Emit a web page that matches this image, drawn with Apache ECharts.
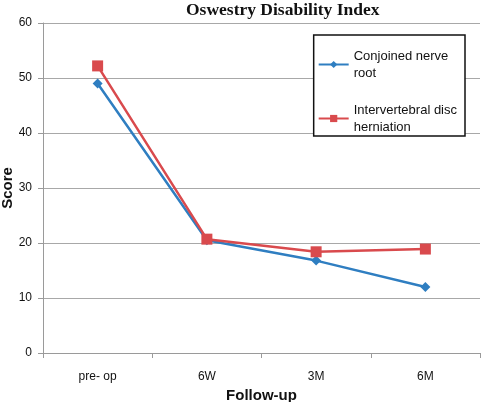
<!DOCTYPE html>
<html><head><meta charset="utf-8">
<script src="https://cdn.jsdelivr.net/npm/echarts@6/dist/echarts.min.js"></script>
<style>html,body{margin:0;padding:0;background:#fff}#c{width:481px;height:402px}</style>
</head><body><div id="c"></div>
<script>
const categories = ['pre- op', '6W', '3M', '6M'];
const conjoined = [49, 20.5, 16.8, 12];
const herniation = [52.2, 20.7, 18.4, 18.9];
const yTicks = [0, 10, 20, 30, 40, 50, 60];

const chart = echarts.init(document.getElementById('c'));
const font = 'Liberation Sans, Arial, sans-serif';
chart.setOption({
  animation: false,
  title: {
    text: 'Oswestry Disability Index', left: 181, top: -4,
    textStyle: {fontFamily: 'Liberation Serif, DejaVu Serif, serif', fontWeight: 'bold', fontSize: 17.5, color: '#111'}
  },
  grid: {left: 43, right: 1, top: 23, bottom: 49, containLabel: false, outerBoundsMode: 'none'},
  legend: {
    orient: 'vertical', right: 16, top: 35,
    backgroundColor: '#fff', borderColor: '#111', borderWidth: 1.5,
    padding: [4, 8, -8, 4], itemGap: 3, itemWidth: 30, itemHeight: 9,
    data: ['Conjoined nerve root', 'Intervertebral disc herniation'],
    formatter: function (n) { return n === 'Conjoined nerve root' ? 'Conjoined nerve\nroot' : 'Intervertebral disc\nherniation'; },
    textStyle: {fontFamily: font, fontSize: 13, color: '#111', lineHeight: 17, padding: [17, 0, 0, 0]}
  },
  xAxis: {
    type: 'category', data: categories, boundaryGap: true,
    name: 'Follow-up', nameLocation: 'middle', nameGap: 35,
    nameTextStyle: {fontFamily: font, fontWeight: 'bold', fontSize: 15, color: '#111'},
    axisLine: {lineStyle: {color: '#9a9a9a'}},
    axisTick: {show: true, length: 5, lineStyle: {color: '#9a9a9a'}},
    axisLabel: {fontFamily: font, fontSize: 12, color: '#111', margin: 18}
  },
  yAxis: {
    type: 'value', min: 0, max: 60, interval: 10,
    name: 'Score', nameLocation: 'middle', nameGap: 28, nameMoveOverlap: false,
    nameTextStyle: {fontFamily: font, fontWeight: 'bold', fontSize: 15, color: '#111'},
    axisLine: {show: true, lineStyle: {color: '#9a9a9a'}},
    axisTick: {show: true, length: 5, lineStyle: {color: '#9a9a9a'}},
    axisLabel: {fontFamily: font, fontSize: 12, color: '#111', margin: 11,
      formatter: v => yTicks.includes(v) ? String(v) : ''},
    splitLine: {lineStyle: {color: '#a8a8a8'}}
  },
  series: [
    {name: 'Conjoined nerve root', type: 'line', data: conjoined, symbol: 'diamond', symbolSize: 10,
      color: '#2f7ec1', lineStyle: {width: 2.5, color: '#2f7ec1'}, itemStyle: {color: '#2f7ec1'}},
    {name: 'Intervertebral disc herniation', type: 'line', data: herniation, symbol: 'rect', symbolSize: 11,
      color: '#d94a4d', lineStyle: {width: 2.5, color: '#d94a4d'}, itemStyle: {color: '#d94a4d'}}
  ]
});
</script></body></html>
